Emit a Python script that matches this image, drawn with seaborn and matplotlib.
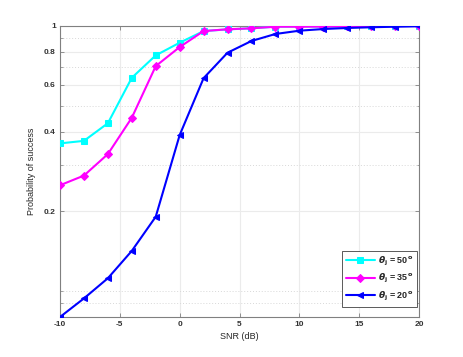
import numpy as np
import pandas as pd
import matplotlib
matplotlib.use("Agg")
import matplotlib.pyplot as plt
import seaborn as sns
from matplotlib.ticker import FixedLocator, NullFormatter

snr = [-10, -8, -6, -4, -2, 0, 2, 4, 6, 8, 10, 12, 14, 16, 18, 20]
p50 = [0.361, 0.369, 0.430, 0.638, 0.775, 0.865, 0.957, 0.971, 0.980, 0.994, 0.995, 0.996, 0.997, 0.998, 0.999, 1.0]
p35 = [0.251, 0.273, 0.329, 0.451, 0.706, 0.833, 0.957, 0.972, 0.980, 0.994, 0.994, 0.995, 0.996, 0.998, 0.999, 1.0]
p20 = [0.080, 0.094, 0.112, 0.142, 0.191, 0.388, 0.636, 0.793, 0.878, 0.933, 0.960, 0.974, 0.983, 0.989, 0.994, 0.998]
labels = [r'$\boldsymbol{\theta}_{\mathbf{j}}$ = 50$^{\mathbf{o}}$',
          r'$\boldsymbol{\theta}_{\mathbf{j}}$ = 35$^{\mathbf{o}}$',
          r'$\boldsymbol{\theta}_{\mathbf{j}}$ = 20$^{\mathbf{o}}$']
colors = ['#00FFFF', '#FF00FF', '#0000FF']
markers = ['s', 'D', '<']
yticks = [0.2, 0.4, 0.6, 0.8, 1]
ytick_labels = ['0.2', '0.4', '0.6', '0.8', '1']
yminor = [0.09, 0.1, 0.3, 0.5, 0.7, 0.9]
xticks = [-10, -5, 0, 5, 10, 15, 20]

sns.set_theme(style="white")
plt.rcParams['font.family'] = ['Liberation Sans', 'DejaVu Sans']
plt.rcParams['mathtext.fontset'] = 'dejavusans'

fig = plt.figure(figsize=(4.63, 3.57), dpi=100)
ax = fig.add_axes([60/463, 1-317/357, (419-60)/463, (317-26)/357])

series = [p50, p35, p20]
for vals, lab, c, m in zip(series, labels, colors, markers):
    df = pd.DataFrame({'SNR': snr, 'P': vals})
    sns.lineplot(data=df, x='SNR', y='P', ax=ax, color=c, marker=m, label=lab,
                 linewidth=1.5, markersize=4 if m != 'D' else 3.6,
                 markeredgecolor=c, markerfacecolor=c, zorder=3)

ax.set_yscale('log')
ax.set_ylim(0.08, 1.0)
ax.set_xlim(-10, 20)
ax.yaxis.set_major_locator(FixedLocator(yticks))
ax.set_yticklabels(ytick_labels)
ax.yaxis.set_minor_locator(FixedLocator(yminor))
ax.yaxis.set_minor_formatter(NullFormatter())
ax.set_xticks(xticks)
ax.set_xticklabels([str(t) for t in xticks])

ax.grid(True, which='major', color='#ebebeb', linewidth=0.8, linestyle='-')
ax.grid(True, which='minor', axis='y', color='#d8d8d8', linewidth=0.7, linestyle=(0, (1, 2)))
ax.set_axisbelow(True)

for s in ax.spines.values():
    s.set_color('#808080')
    s.set_linewidth(0.8)
    s.set_visible(True)

ax.tick_params(axis='both', which='major', direction='in', length=3, width=0.6,
               colors='#808080', labelcolor='#333333', labelsize=6, top=True, right=True, pad=3,
               bottom=True, left=True)
ax.tick_params(axis='y', which='minor', direction='in', length=1.8, width=0.5,
               colors='#808080', right=True, left=True)
for lbl in ax.get_xticklabels() + ax.get_yticklabels():
    lbl.set_fontweight('bold')

ax.set_xlabel('SNR (dB)', fontsize=6.5, color='#262626', labelpad=3)
ax.set_ylabel('Probability of success', fontsize=6.5, color='#262626', labelpad=6)

leg = ax.legend(loc='lower right', fontsize=6.5, frameon=True, fancybox=False,
                edgecolor='#404040', framealpha=1, borderpad=0.45, labelspacing=0.5,
                handlelength=3.2, handletextpad=0.3, borderaxespad=0,
                bbox_to_anchor=(0.994, 0.034))
leg.get_frame().set_linewidth(0.6)
for t in leg.get_texts():
    t.set_fontweight('bold')

fig.savefig('out.png', dpi=100)
